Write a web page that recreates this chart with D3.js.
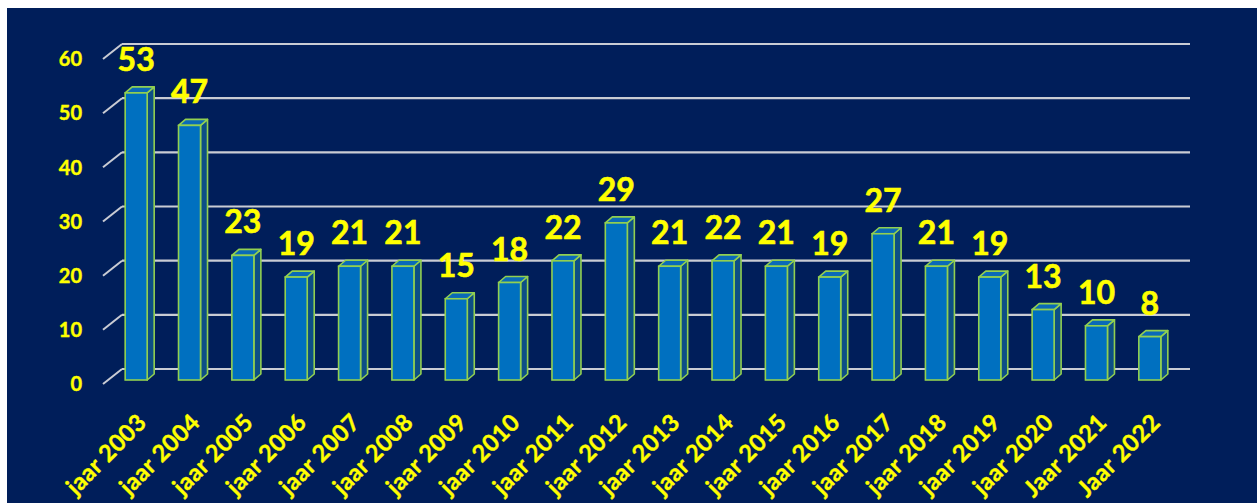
<!DOCTYPE html>
<html>
<head>
<meta charset="utf-8">
<script src="https://cdn.jsdelivr.net/npm/d3@7"></script>
<style>
  html, body { margin: 0; padding: 0; background: #ffffff; }
  svg { display: block; }
</style>
</head>
<body>
<svg id="chart" width="1257" height="503"></svg>
<script>
const categories = ["jaar 2003","jaar 2004","jaar 2005","jaar 2006","jaar 2007","jaar 2008","jaar 2009","jaar 2010","jaar 2011","jaar 2012","jaar 2013","jaar 2014","jaar 2015","jaar 2016","jaar 2017","jaar 2018","jaar 2019","jaar 2020","Jaar 2021","Jaar 2022"];
const values = [53,47,23,19,21,21,15,18,22,29,21,22,21,19,27,21,19,13,10,8];
const yTicks = [0,10,20,30,40,50,60];

const svg = d3.select("#chart");
const font = "Lato, 'Open Sans', sans-serif";

// background panel
svg.append("rect").attr("x",7).attr("y",8).attr("width",1250).attr("height",495).attr("fill","#001e5a");

const y = d3.scaleLinear().domain([0,60]).range([380,55]);
const x = d3.scaleBand().domain(categories).range([109.5,1176.5]).paddingInner(0).paddingOuter(0);
const backDy = -11;
const barW = 22, dx = 7, dy = -6;

// back-wall gridlines with depth diagonals
const grid = svg.append("g");
yTicks.forEach(t => {
  const yb = y(t) + backDy;
  grid.append("line").attr("x1",122).attr("x2",1190).attr("y1",yb).attr("y2",yb)
    .attr("stroke","#c9ccd4").attr("stroke-width",2.2);
  grid.append("line").attr("x1",122).attr("x2",103).attr("y1",yb).attr("y2",yb+15)
    .attr("stroke","#c9ccd4").attr("stroke-width",2);
});

// y tick labels
svg.append("g").selectAll("text").data(yTicks).join("text")
  .attr("x",82).attr("y",d => y(d) + backDy + 15)
  .attr("dy","0.36em")
  .attr("text-anchor","end")
  .attr("font-family",font).attr("font-weight","bold").attr("font-size",20)
  .attr("fill","#ffff00").attr("stroke","#ffff00").attr("stroke-width",0.4)
  .text(d => d);

// bars
const bars = svg.append("g").selectAll("g").data(values).join("g");
bars.each(function(v,i){
  const g = d3.select(this);
  const x0 = x(categories[i]) + (x.bandwidth() - barW)/2;
  const yt = y(v), yb = y(0);
  g.append("path")
    .attr("d",`M${x0+barW},${yt} L${x0+barW+dx},${yt+dy} L${x0+barW+dx},${yb+dy} L${x0+barW},${yb} Z`)
    .attr("fill","#0d4f86").attr("stroke","#92d050").attr("stroke-width",1.6).attr("stroke-linejoin","round");
  g.append("path")
    .attr("d",`M${x0},${yt} L${x0+dx},${yt+dy} L${x0+barW+dx},${yt+dy} L${x0+barW},${yt} Z`)
    .attr("fill","#0a6ab8").attr("stroke","#92d050").attr("stroke-width",1.6).attr("stroke-linejoin","round");
  g.append("rect").attr("x",x0).attr("y",yt).attr("width",barW).attr("height",yb-yt)
    .attr("fill","#0070c0").attr("stroke","#92d050").attr("stroke-width",1.6);
});

// value labels
svg.append("g").selectAll("text").data(values).join("text")
  .attr("x",(d,i) => x(categories[i]) + x.bandwidth()/2)
  .attr("y",d => y(d) - 22)
  .attr("text-anchor","middle")
  .attr("font-family",font).attr("font-weight","bold").attr("font-size",32)
  .attr("fill","#ffff00").attr("stroke","#ffff00").attr("stroke-width",0.6)
  .text(d => d);

// category labels
svg.append("g").selectAll("text").data(categories).join("text")
  .attr("transform",(d) => `translate(${x(d) + x.bandwidth()/2},${412}) rotate(-45)`)
  .attr("text-anchor","end")
  .attr("dy","0.71em")
  .attr("font-family",font).attr("font-weight","bold").attr("font-size",23.5)
  .attr("letter-spacing","0.4")
  .attr("fill","#ffff00").attr("stroke","#ffff00").attr("stroke-width",0.4)
  .text(d => d);
</script>
</body>
</html>
